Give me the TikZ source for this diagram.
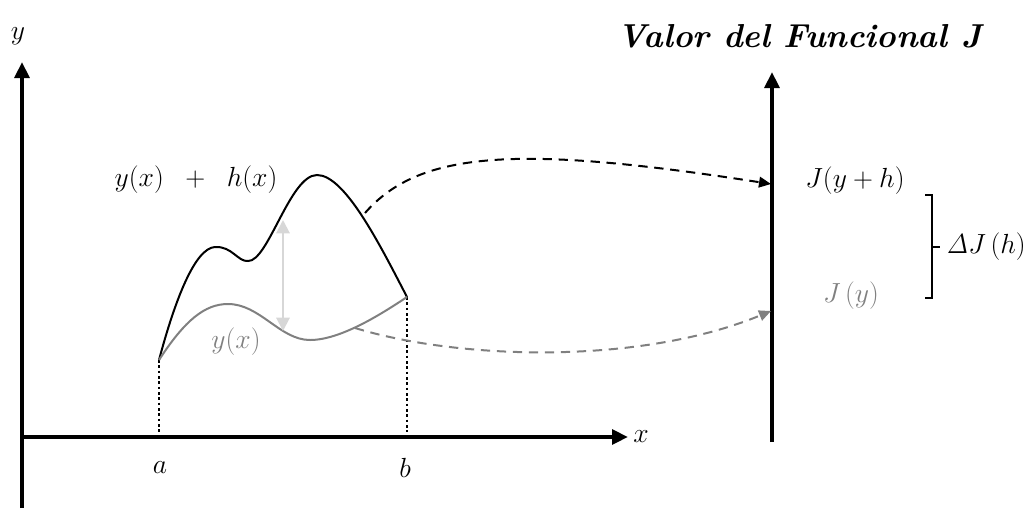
\documentclass[tikz,border=0pt]{standalone}
\usetikzlibrary{arrows.meta}
\tikzset{
  axis/.style={line width=3pt, -{Triangle[length=12pt,width=11pt]}},
  lbl/.style={font=\huge},
  guide/.style={line width=2pt, dash pattern=on 2pt off 2pt},
  map/.style={dashed, line width=1.5pt, dash pattern=on 7pt off 5pt, -{Triangle[length=9pt,width=8pt]}}
}
\definecolor{lightgrey}{RGB}{215,215,215}
\definecolor{midgrey}{RGB}{128,128,128}
\begin{document}
\begin{tikzpicture}[x=0.75pt, y=-0.75pt]
            \useasboundingbox (0,0) rectangle (1027,511);
            % axes
            \coordinate (ybot) at (22,508);
            \coordinate (ytop) at (22,62);
            \coordinate (xleft) at (22,437);
            \coordinate (xright) at (628,437);
            \draw[axis] (ybot) -- (ytop);
            \draw[axis] (xleft) -- (xright);
            \node[lbl] (ylab) at (18,36) {$y$};
            \node[lbl] (xlab) at (641,437) {$x$};
            % end points of the curves
            \coordinate (pa) at (159,360);
            \coordinate (pb) at (407,297);
            \coordinate (qa) at (159,432);
            \coordinate (qb) at (407,432);
            \draw[guide] (pa) -- (qa);
            \draw[guide] (pb) -- (qb);
            \node[lbl] (alab) at (160,468) {$a$};
            \node[lbl] (blab) at (405,468) {$b$};
            % perturbed curve y + h
            \draw[line width=1.5pt] (pa) .. controls (175,300) and (195,248) .. (215,247)
              .. controls (232,246) and (238,262) .. (248,261)
              .. controls (268,262) and (290,175) .. (317,175)
              .. controls (345,175) and (380,245) .. (pb);
            % original curve y
            \draw[line width=1.5pt, midgrey] (pa) .. controls (185,320) and (205,304) .. (228,304)
              .. controls (260,304) and (280,340) .. (310,340)
              .. controls (340,340) and (380,315) .. (pb);
            % variation h
            \coordinate (htop) at (283,220);
            \coordinate (hbot) at (283,331);
            \draw[lightgrey, line width=1.5pt, {Triangle[length=10pt,width=10pt]}-{Triangle[length=10pt,width=10pt]}] (htop) -- (hbot);
            \node[lbl] (yhlab) at (196,180) {$y(x)\;\;+\;\;h(x)$};
            \node[lbl, midgrey] (ylabc) at (236,342) {$y(x)$};
            % value axis of the functional
            \coordinate (jbot) at (772,442);
            \coordinate (jtop) at (772,72);
            \draw[axis] (jbot) -- (jtop);
            \node[lbl, anchor=east, font=\Huge] (title) at (986,36) {\bfseries\itshape Valor del Funcional J};
            \node[lbl] (jyh) at (855,181) {$J(y+h)$};
            \node[lbl, midgrey] (jy) at (851,296) {$J\,(y)$};
            % mapping of each curve to its value
            \coordinate (s1) at (365,213);
            \coordinate (t1) at (771,184);
            \coordinate (s2) at (355,328);
            \coordinate (t2) at (771,311);
            \draw[map] (s1) .. controls (420,150) and (520,145) .. (t1);
            \draw[map, midgrey] (s2) .. controls (460,360) and (640,365) .. (t2);
            % difference bracket
            \coordinate (bt) at (925,195);
            \coordinate (bb) at (925,298);
            \draw[line width=1.5pt] (bt) -- (932,195) -- (932,298) -- (bb);
            \draw[line width=1.5pt] (932,247) -- (940,247);
            \node[lbl, anchor=west, inner xsep=0pt] (dj) at (946,247) {$\mathit{\Delta} J\,(h)$};
        \end{tikzpicture}
\end{document}
